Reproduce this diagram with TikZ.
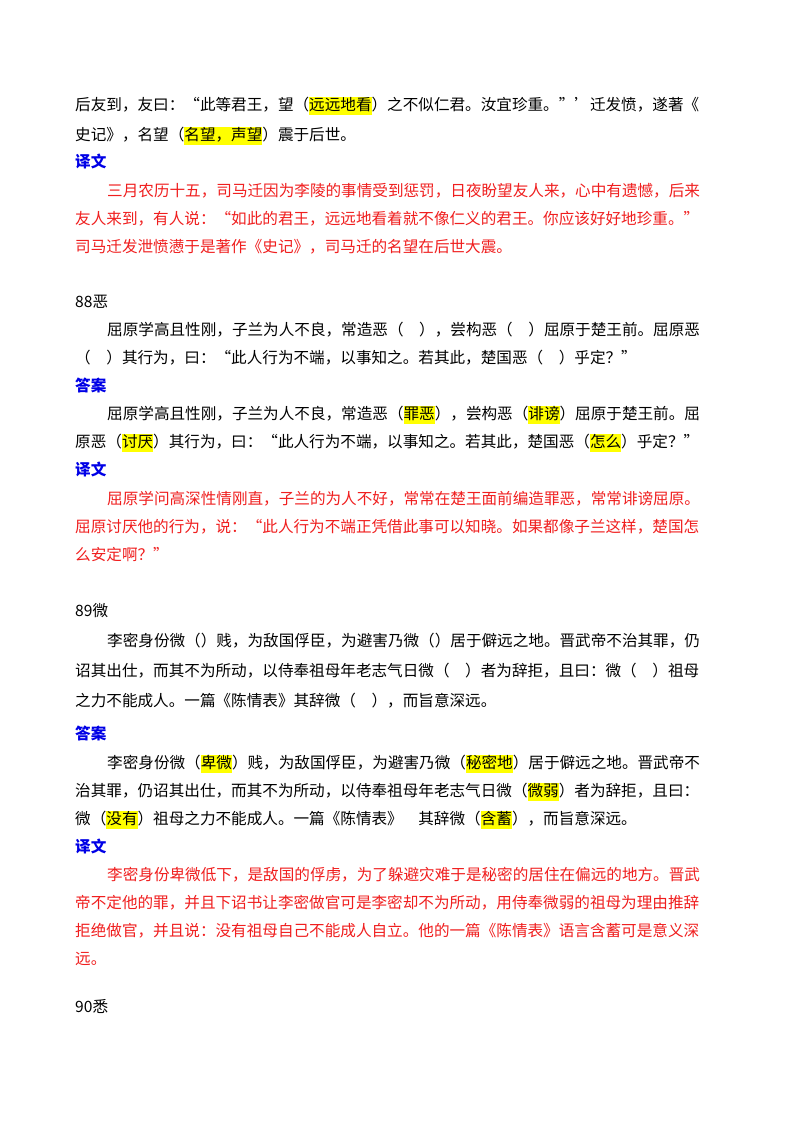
\documentclass[tikz,border=0pt]{standalone}
\usepackage{fontspec}
\setmainfont{Noto Sans CJK SC}
\usepackage{xcolor}
\definecolor{hly}{RGB}{255,255,0}
\definecolor{tred}{RGB}{240,30,30}
\definecolor{tblue}{RGB}{0,0,230}
\newcommand{\hlt}[1]{{\setlength{\fboxsep}{0pt}\colorbox{hly}{\strut #1}}}
\begin{document}
\begin{tikzpicture}[x=1pt,y=-1pt,
  ln/.style={anchor=base west,inner sep=0pt,font=\fontsize{15.6}{18}\selectfont},
  rd/.style={ln,text=tred},
  hd/.style={ln,text=tblue,font=\fontsize{15.6}{18}\selectfont\bfseries}]
\useasboundingbox (0,0) rectangle (800,1132);
\fill[white] (0,0) rectangle (800,1132);
\node[ln] (a1) at (75,110) {后友到，友曰：“此等君王，望（\hlt{远远地看}）之不似仁君。汝宜珍重。”’迁发愤，遂著《};
\node[ln] (a2) at (75,140) {史记》，名望（\hlt{名望，声望}）震于后世。};
\node[hd] (a3) at (75,167) {译文};
\node[rd] (a4) at (107,196) {三月农历十五，司马迁因为李陵的事情受到惩罚，日夜盼望友人来，心中有遗憾，后来};
\node[rd] (a5) at (75,224) {友人来到，有人说：“如此的君王，远远地看着就不像仁义的君王。你应该好好地珍重。”};
\node[rd] (a6) at (75,252) {司马迁发泄愤懑于是著作《史记》，司马迁的名望在后世大震。};

\node[ln] (b0) at (75,307) {88恶};
\node[ln] (b1) at (107,335) {屈原学高且性刚，子兰为人不良，常造恶（\quad），尝构恶（\quad）屈原于楚王前。屈原恶};
\node[ln] (b2) at (75,363) {（\quad）其行为，曰：“此人行为不端，以事知之。若其此，楚国恶（\quad）乎定？”};
\node[hd] (b3) at (75,391) {答案};
\node[ln] (b4) at (107,419) {屈原学高且性刚，子兰为人不良，常造恶（\hlt{罪恶}），尝构恶（\hlt{诽谤}）屈原于楚王前。屈};
\node[ln] (b5) at (75,447) {原恶（\hlt{讨厌}）其行为，曰：“此人行为不端，以事知之。若其此，楚国恶（\hlt{怎么}）乎定？”};
\node[hd] (b6) at (75,475) {译文};
\node[rd] (b7) at (107,504) {屈原学问高深性情刚直，子兰的为人不好，常常在楚王面前编造罪恶，常常诽谤屈原。};
\node[rd] (b8) at (75,532) {屈原讨厌他的行为，说：“此人行为不端正凭借此事可以知晓。如果都像子兰这样，楚国怎};
\node[rd] (b9) at (75,560) {么安定啊？”};

\node[ln] (c0) at (75,616) {89微};
\node[ln] (c1) at (107,646) {李密身份微（）贱，为敌国俘臣，为避害乃微（）居于僻远之地。晋武帝不治其罪，仍};
\node[ln] (c2) at (75,676) {诏其出仕，而其不为所动，以侍奉祖母年老志气日微（\quad）者为辞拒，且曰：微（\quad）祖母};
\node[ln] (c3) at (75,706) {之力不能成人。一篇《陈情表》其辞微（\quad），而旨意深远。};
\node[hd] (c4) at (75,739) {答案};
\node[ln] (c5) at (107,768) {李密身份微（\hlt{卑微}）贱，为敌国俘臣，为避害乃微（\hlt{秘密地}）居于僻远之地。晋武帝不};
\node[ln] (c6) at (75,796) {治其罪，仍诏其出仕，而其不为所动，以侍奉祖母年老志气日微（\hlt{微弱}）者为辞拒，且曰：};
\node[ln] (c7) at (75,824) {微（\hlt{没有}）祖母之力不能成人。一篇《陈情表》\quad 其辞微（\hlt{含蓄}），而旨意深远。};
\node[hd] (c8) at (75,852) {译文};
\node[rd] (c9) at (107,880) {李密身份卑微低下，是敌国的俘虏，为了躲避灾难于是秘密的居住在偏远的地方。晋武};
\node[rd] (c10) at (75,908) {帝不定他的罪，并且下诏书让李密做官可是李密却不为所动，用侍奉微弱的祖母为理由推辞};
\node[rd] (c11) at (75,936) {拒绝做官，并且说：没有祖母自己不能成人自立。他的一篇《陈情表》语言含蓄可是意义深};
\node[rd] (c12) at (75,964) {远。};
\node[ln] (d0) at (75,1012) {90悉};
\end{tikzpicture}
\end{document}
